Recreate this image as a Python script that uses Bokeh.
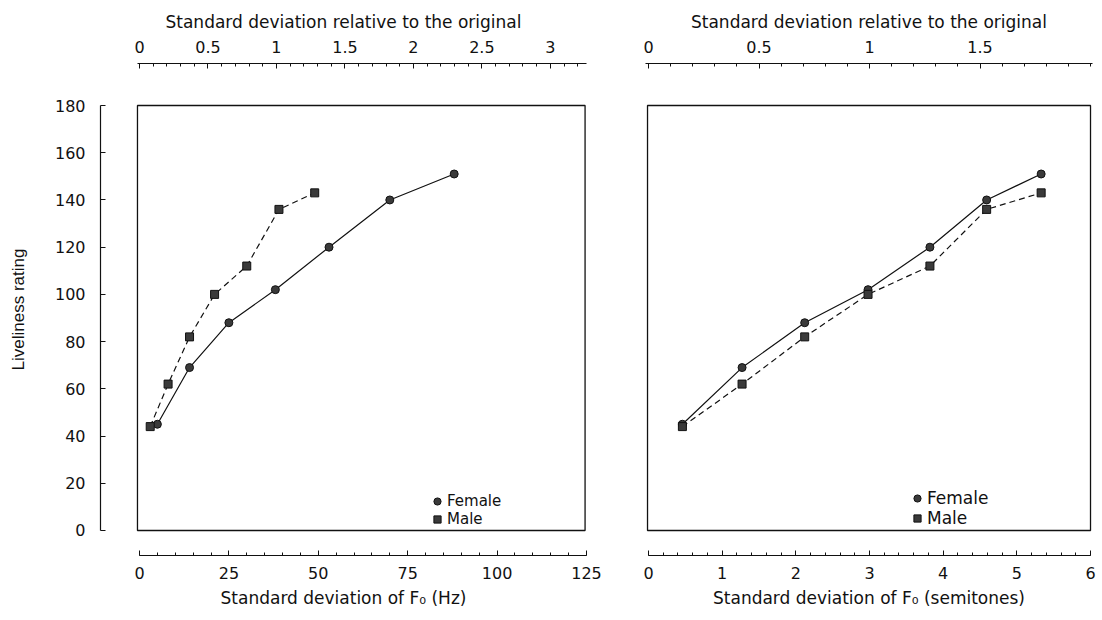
from bokeh.plotting import figure
from bokeh.models import (Range1d, LinearAxis, FixedTicker, BoxAnnotation,
                          Legend, LegendItem)
from bokeh.layouts import row
from bokeh.embed import file_html
from bokeh.resources import INLINE

# ---------------- data ----------------
hz_female = [5, 14, 25, 38, 53, 70, 88]
hz_male = [3, 8, 14, 21, 30, 39, 49]
semitones = [0.46, 1.27, 2.12, 2.98, 3.82, 4.59, 5.33]
rating_female = [45, 69, 88, 102, 120, 140, 151]
rating_male = [44, 62, 82, 100, 112, 136, 143]

y_ticks = [0, 20, 40, 60, 80, 100, 120, 140, 160, 180]
hz_ticks = [0, 25, 50, 75, 100, 125]
hz_minor = list(range(0, 126, 5))
rel_ticks_left = [0, 0.5, 1, 1.5, 2, 2.5, 3]
rel_labels_left = ["0", "0.5", "1", "1.5", "2", "2.5", "3"]
rel_minor_left = [i / 10 for i in range(0, 33)]
semi_ticks = [0, 1, 2, 3, 4, 5, 6]
semi_minor = [i / 5 for i in range(0, 31)]
rel_ticks_right = [0, 0.5, 1, 1.5]
rel_labels_right = ["0", "0.5", "1", "1.5"]
rel_minor_right = [i / 10 for i in range(0, 21)]

HZ_PER_REL = 38.3      # Hz corresponding to relative SD 1
SEMI_PER_REL = 3.0     # semitones corresponding to relative SD 1

FONT = "DejaVu Sans"
INK = "#111111"


def style_axis(ax, label_font=FONT, label_size="17px"):
    ax.axis_line_color = INK
    ax.axis_line_width = 1.2
    ax.major_tick_in = 5
    ax.major_tick_out = 0
    ax.minor_tick_in = 3
    ax.minor_tick_out = 0
    ax.major_tick_line_color = INK
    ax.minor_tick_line_color = INK
    ax.major_label_text_font = FONT
    ax.major_label_text_font_size = "16px"
    ax.major_label_text_color = INK
    ax.major_label_standoff = 11
    ax.axis_label_text_font = label_font
    ax.axis_label_text_font_size = label_size
    ax.axis_label_text_font_style = "normal"
    ax.axis_label_text_color = INK
    ax.axis_label_standoff = 6


def base_fig(width, xr, mbl, mbr):
    p = figure(width=width, height=618, x_range=xr,
               y_range=Range1d(-10.6, 197.8),
               x_axis_location=None, y_axis_location=None,
               output_backend="svg", toolbar_location=None,
               min_border_left=mbl, min_border_right=mbr,
               min_border_top=63, min_border_bottom=63)
    p.outline_line_color = None
    p.xgrid.grid_line_color = None
    p.ygrid.grid_line_color = None
    p.background_fill_color = "white"
    return p


def add_series(p, xf, xm, legend_xy, legend_font):
    p.line(xf, rating_female, line_color=INK, line_width=1.2)
    p.line(xm, rating_male, line_color=INK, line_width=1.2, line_dash="6 4")
    sf = p.scatter(xf, rating_female, marker="circle", size=8,
                   fill_color="#3a3a3a", line_color=INK, line_width=1)
    sm = p.scatter(xm, rating_male, marker="square", size=8,
                   fill_color="#3a3a3a", line_color=INK, line_width=1)
    leg = Legend(items=[LegendItem(label="Female", renderers=[sf]),
                        LegendItem(label="Male", renderers=[sm])],
                 location=legend_xy, orientation="vertical",
                 background_fill_alpha=0, border_line_alpha=0,
                 padding=0, margin=0, spacing=-2,
                 glyph_width=18, glyph_height=18, label_height=18,
                 label_standoff=1, label_text_font=FONT,
                 label_text_font_size=legend_font, label_text_color=INK)
    p.add_layout(leg)


def frame_box(left, right):
    return BoxAnnotation(left=left, right=right, bottom=0, top=180,
                         fill_alpha=0, line_color=INK, line_alpha=1,
                         line_width=1.3)


# ---------------- left panel (Hz) ----------------
p1 = base_fig(620, Range1d(-10.9, 125.0), 100, 34)
p1.extra_x_ranges = {"rel": Range1d(-10.9 / HZ_PER_REL, 125.0 / HZ_PER_REL)}

ax_y = LinearAxis(ticker=FixedTicker(ticks=y_ticks, minor_ticks=[]),
                  bounds=(0, 180), axis_label="Liveliness rating")
style_axis(ax_y, label_font="Liberation Sans", label_size="17px")
ax_y.major_label_standoff = 15
ax_y.axis_label_standoff = 24
p1.add_layout(ax_y, "left")

ax_b1 = LinearAxis(ticker=FixedTicker(ticks=hz_ticks, minor_ticks=hz_minor),
                   bounds=(0, 125), axis_label="Standard deviation of F₀ (Hz)")
style_axis(ax_b1)
p1.add_layout(ax_b1, "below")

ax_t1 = LinearAxis(x_range_name="rel",
                   ticker=FixedTicker(ticks=rel_ticks_left, minor_ticks=rel_minor_left),
                   bounds=(-0.56 / HZ_PER_REL, 125.0 / HZ_PER_REL),
                   axis_label="Standard deviation relative to the original")
ax_t1.major_label_overrides = dict(zip(rel_ticks_left, rel_labels_left))
style_axis(ax_t1)
p1.add_layout(ax_t1, "above")

p1.add_layout(frame_box(-0.56, 124.6))
add_series(p1, hz_female, hz_male, (328, 27), "15px")

# ---------------- right panel (semitones) ----------------
p2 = base_fig(480, Range1d(-0.041, 6.027), 25, 8)
p2.extra_x_ranges = {"rel": Range1d(-0.041 / SEMI_PER_REL, 6.027 / SEMI_PER_REL)}

ax_b2 = LinearAxis(ticker=FixedTicker(ticks=semi_ticks, minor_ticks=semi_minor),
                   bounds=(0, 6), axis_label="Standard deviation of F₀ (semitones)")
style_axis(ax_b2)
p2.add_layout(ax_b2, "below")

ax_t2 = LinearAxis(x_range_name="rel",
                   ticker=FixedTicker(ticks=rel_ticks_right, minor_ticks=rel_minor_right),
                   axis_label="Standard deviation relative to the original")
ax_t2.major_label_overrides = dict(zip(rel_ticks_right, rel_labels_right))
style_axis(ax_t2)
p2.add_layout(ax_t2, "above")

p2.add_layout(frame_box(-0.0136, 6.0))
add_series(p2, semitones, semitones, (263, 27), "17px")

layout = row(p1, p2)
open("out.html", "w").write(file_html(layout, INLINE))
